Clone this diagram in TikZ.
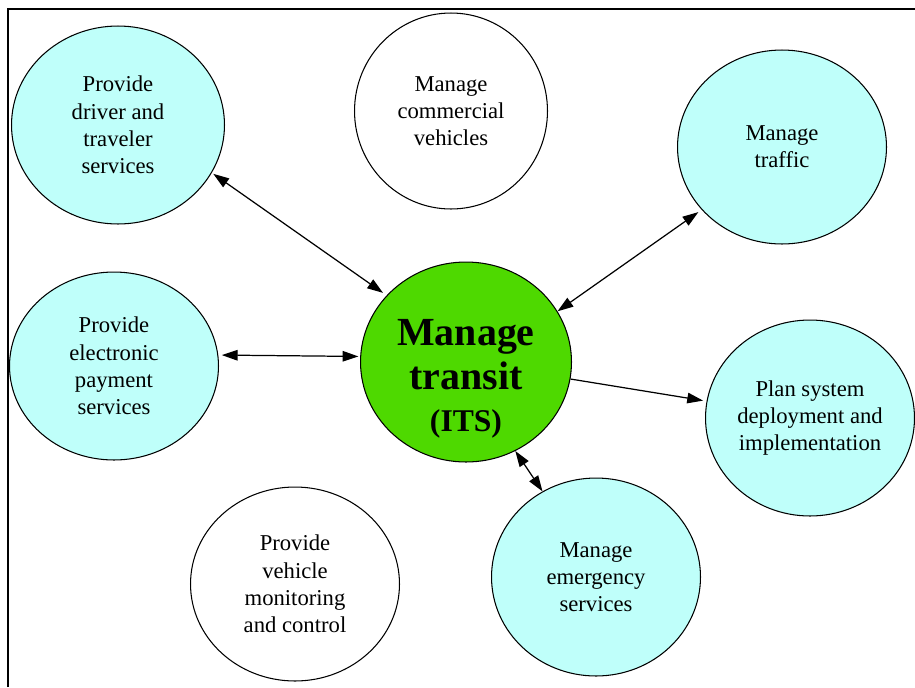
\documentclass[tikz,border=0pt]{standalone}
\usepackage{fontspec}
\setmainfont{Liberation Serif}
\usetikzlibrary{arrows.meta,shapes.geometric}
\definecolor{svccyan}{RGB}{191,255,250}
\definecolor{itsgreen}{RGB}{78,217,0}

\begin{document}
\begin{tikzpicture}
  [
  x=0.02cm, y=-0.02cm,
  font=\fontsize{12.9}{15.5}\selectfont, >={Triangle[length=9pt,width=6pt]}, line width=0.7pt,
  bubble/.style={ellipse, draw=black, line width=0.6pt, align=center, inner sep=0pt, minimum width=4.18cm, minimum height=3.96cm},
  service/.style={bubble, fill=svccyan},
  other/.style={bubble, fill=white},
  hub/.style={bubble, fill=itsgreen, minimum width=4.22cm, minimum height=4cm, font=\fontsize{22.7}{25.5}\selectfont\bfseries}
  ]
\useasboundingbox (0,0) rectangle (915,687);

% frame
\draw[line width=1.1pt] (8,687) |- (915,9);

\node[hub] (mt) at (466,362) {\raisebox{-15pt}[0pt][0pt]{\begin{tabular}{@{}c@{}}Manage\\transit\\[-2pt]{\fontsize{18}{21}\selectfont (ITS)}\end{tabular}}};

\node[service, minimum width=4.26cm] (drv) at (118,125) {Provide\\driver and\\traveler\\services};
\node[other, minimum width=3.86cm, minimum height=3.92cm] (cveh) at (451,111) {Manage\\commercial\\vehicles};
\node[service, minimum height=3.88cm] (trf) at (782,147) {Manage\\traffic};
\node[service, minimum height=3.76cm] (epay) at (114,366) {Provide\\electronic\\payment\\services};
\node[service, minimum height=3.92cm] (plan) at (810,418) {Plan system\\deployment and\\implementation};
\node[other, minimum height=3.88cm] (vmon) at (295,584) {Provide\\vehicle\\monitoring\\and control};
\node[service] (emer) at (596,577) {Manage\\emergency\\services};

\draw[<->, shorten <=1pt, shorten >=2.5pt] (drv.-27) -- (mt.140);
\draw[<->, shorten >=2.3pt] (mt.29) -- (trf.218);
\draw[->, shorten >=2pt] (mt) -- (plan);
\draw[<->] (mt.-61) -- (emer.122);
\draw[<->, shorten <=2pt, shorten >=1pt] (epay.6) -- (mt.177);

\end{tikzpicture}
\end{document}
